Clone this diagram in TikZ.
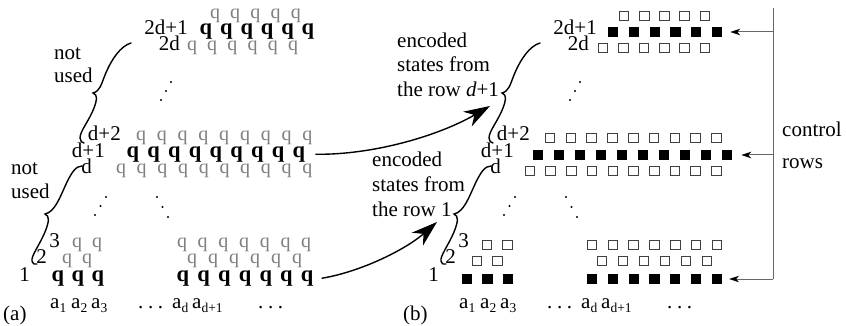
\documentclass[tikz,border=0pt]{standalone}
\usepackage{fontspec}
\setmainfont{Liberation Serif}
\usetikzlibrary{arrows.meta}
\newcommand{\ssub}[1]{\raisebox{-0.22em}{\fontsize{13.5}{13.5}\selectfont #1}}
\begin{document}
\begin{tikzpicture}[x=1pt,y=-1pt,
  lbl/.style={inner sep=0pt, font=\fontsize{21}{25}\selectfont},
  rowlbl/.style={lbl, anchor=mid east},
  txt/.style={lbl, anchor=base west},
  gq/.style={inner sep=0pt, anchor=mid, text=black!50, font=\fontsize{20}{22}\selectfont},
  bq/.style={inner sep=0pt, anchor=mid, font=\fontsize{22.5}{24}\selectfont\bfseries},
  osq/.style={draw=black!75, line width=0.9pt, minimum size=9.6pt, inner sep=0pt},
  fsq/.style={fill=black, minimum size=10.2pt, inner sep=0pt},
  bracepath/.style={line width=1.4pt, line cap=round},
  bigarrow/.style={line width=1.4pt, -{Stealth[length=26pt,width=17pt,inset=8pt]}},
  ctrl/.style={black!60, line width=1pt},
  ctrlarrow/.style={black!60, line width=1pt, -{Stealth[length=10pt,width=6.5pt,inset=3pt,black]}},
  dotc/.style={fill=black, inner sep=0pt, minimum size=2.2pt, circle}
]
\useasboundingbox (0,0) rectangle (846,326);

% ---------------- panel (a) ----------------
\foreach \nm/\x/\n/\yy/\sp in {top/215/4/16/20.2, td/192/5/48/20.2, dp2/141/8/138/20.8,
    d/121/9/171/20.7, rtl/77/1/245/20, rtr/182/6/245/20.7, rwl/67/1/261/20, rwr/192/5/261/21}
  \foreach \i in {0,...,\n} \node[gq] (a-\nm-\i) at ({\x+\i*\sp},\yy) {q};
\foreach \nm/\x/\n/\yy/\sp in {tda/206/5/32/20.4, dp1/133/8/155/20.75, rol/58/2/279/20, ror/183/6/279/20.7}
  \foreach \i in {0,...,\n} \node[bq] (a-\nm-\i) at ({\x+\i*\sp},\yy) {q};

% ---------------- panel (b) ----------------
\begin{scope}[xshift=409pt]
\foreach \nm/\x/\n/\yy/\sp in {top/215/4/16/20.2, td/194/5/48/20.4, dp2/141/8/138/20.8,
    d/121/9/171/20.7, rtl/78/1/245/20.5, rtr/183/6/245/20.8, rwl/68/1/261/20.5, rwr/193/5/261/21}
  \foreach \i in {0,...,\n} \node[osq] (b-\nm-\i) at ({\x+\i*\sp},\yy) {};
\foreach \nm/\x/\n/\yy/\sp in {tda/204/5/32/20.8, dp1/129/9/155/21, rol/58/2/279/20.5, ror/183/6/279/20.8}
  \foreach \i in {0,...,\n} \node[fsq] (b-\nm-\i) at ({\x+\i*\sp},\yy) {};
\end{scope}

% row labels and column labels for both panels
\foreach \p/\dx in {a/0, b/409}{
  \node[rowlbl] (\p-l2d1) at (188+\dx,32) {2d+1};
  \node[rowlbl] (\p-l2d) at (180+\dx,48) {2d};
  \node[rowlbl] (\p-ld2) at (121+\dx,138) {d+2};
  \node[rowlbl] (\p-ld1) at (105+\dx,155) {d+1};
  \node[rowlbl] (\p-ld) at (92+\dx,171) {d};
  \node[rowlbl] (\p-l3) at (60+\dx,245) {3};
  \node[rowlbl] (\p-l2) at (47+\dx,261) {2};
  \node[rowlbl] (\p-l1) at (30+\dx,279) {1};
  \node[txt] (\p-a1) at (50+\dx,308) {a\ssub{1}};
  \node[txt] (\p-a2) at (71+\dx,308) {a\ssub{2}};
  \node[txt] (\p-a3) at (91+\dx,308) {a\ssub{3}};
  \node[txt] (\p-dots1) at (138+\dx,308) {.\hspace{0.22em}.\hspace{0.22em}.};
  \node[txt] (\p-ad) at (172+\dx,308) {a\ssub{d}};
  \node[txt] (\p-ad1) at (192+\dx,308) {a\ssub{d+1}};
  \node[txt] (\p-dots2) at (258+\dx,308) {.\hspace{0.22em}.\hspace{0.22em}.};
  % diagonal dots
  \foreach \k/\cx/\cy in {0/171/82, 1/166/91, 2/161/100}
    \node[dotc] (\p-vd-\k) at (\cx+\dx,\cy) {};
  \foreach \k/\cx/\cy in {0/106/197, 1/100.5/206, 2/95/215}
    \node[dotc] (\p-ld-\k) at (\cx+\dx,\cy) {};
  \foreach \k/\cx/\cy in {0/157/197, 1/162.5/207, 2/168/217}
    \node[dotc] (\p-rd-\k) at (\cx+\dx,\cy) {};
  % braces
  \draw[bracepath] (131+\dx,43) .. controls (121+\dx,46) and (112+\dx,58) .. (105+\dx,75)
     .. controls (101+\dx,85) and (100+\dx,91) .. (93+\dx,93)
     .. controls (98+\dx,95) and (97+\dx,100) .. (94+\dx,108)
     .. controls (89+\dx,121) and (80+\dx,131) .. (80+\dx,138)
     .. controls (80+\dx,141) and (82+\dx,143) .. (84+\dx,143);
  \draw[bracepath] (82+\dx,166) .. controls (76+\dx,166) and (72+\dx,172) .. (67+\dx,182)
     .. controls (60+\dx,197) and (55+\dx,212) .. (45+\dx,214)
     .. controls (50+\dx,216) and (49+\dx,222) .. (45+\dx,232)
     .. controls (39+\dx,246) and (31+\dx,256) .. (32+\dx,261)
     .. controls (33+\dx,264) and (35+\dx,265) .. (37+\dx,264);
}

\node[txt] (pa) at (3,320) {(a)};
\node[txt] (pb) at (403,320) {(b)};

% not used labels
\node[txt] (nu1) at (54,60) {not};
\node[txt] (nu2) at (54,83) {used};
\node[txt] (nu3) at (11,175) {not};
\node[txt] (nu4) at (11,198) {used};

% encoded labels
\node[txt] (en1) at (397,48) {encoded};
\node[txt] (en2) at (397,72) {states from};
\node[txt] (en3) at (397,97) {the row \textit{d}+1};
\node[txt] (en4) at (372,167) {encoded};
\node[txt] (en5) at (372,191) {states from};
\node[txt] (en6) at (372,216) {the row 1};

% big arrows
\coordinate (tipU) at (490,106);
\coordinate (tipL) at (437,222);
\draw[bigarrow] ([xshift=10pt]a-dp1-8.east) .. controls (375,155) and (440,135) .. (tipU);
\draw[bigarrow] ([xshift=8pt]a-ror-6.east) .. controls (360,272) and (405,250) .. (tipL);

% control rows
\coordinate (ctop) at (773,8);
\coordinate (c1) at (773,32);
\coordinate (c2) at (773,155);
\coordinate (c3) at (773,279);
\draw[ctrl] (ctop) -- (c3);
\draw[ctrlarrow] (c1) -- ([xshift=8pt]b-tda-5.east);
\draw[ctrlarrow] (c2) -- ([xshift=9pt]b-dp1-9.east);
\draw[ctrlarrow] (c3) -- ([xshift=7pt]b-ror-6.east);
\node[txt] (cr1) at (782,137) {control};
\node[txt] (cr2) at (782,168) {rows};
\end{tikzpicture}
\end{document}
